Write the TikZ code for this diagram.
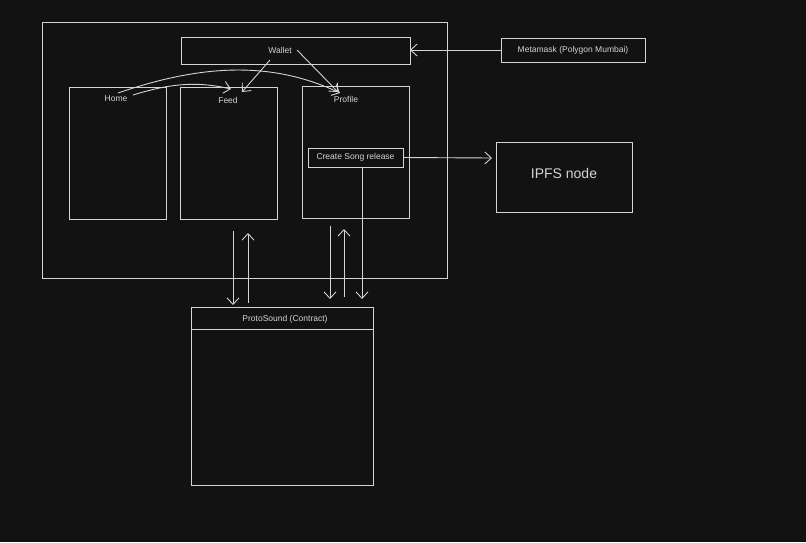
\documentclass[tikz,border=0pt]{standalone}
\usepackage{fontspec}
\setmainfont{Liberation Sans}
\usetikzlibrary{arrows.meta}
\definecolor{bg}{HTML}{121212}
\definecolor{ink}{HTML}{D4D4D4}
\begin{document}
\begin{tikzpicture}[x=1pt,y=-1pt,
  line width=0.9pt,
  box/.style={draw=ink, inner sep=0pt},
  lbl/.style={text=ink, font=\fontsize{8.5}{10}\selectfont, inner sep=1pt},
  arr/.style={draw=ink, -{Straight Barb[length=6.5pt,width=12pt,line width=0.9pt]}}]
\fill[bg] (0,0) rectangle (806,542);
\useasboundingbox (0,0) rectangle (806,542);
% outer container
\draw[ink] (42,22) rectangle (447,278);
% wallet
\draw[ink] (181,37) rectangle (410,64);
\coordinate (walletR) at (410,50);
\node[lbl] (wallet) at (280,50) {Wallet};
% metamask
\draw[ink] (501,38) rectangle (645,62);
\coordinate (metaL) at (501,50);
\node[lbl] (meta) at (573,50) {Metamask (Polygon Mumbai)};
\draw[arr] (metaL) -- (walletR);
% pages
\draw[ink] (69,87) rectangle (166,219);
\draw[ink] (180,87) rectangle (277,219);
\draw[ink] (302,86) rectangle (409,218);
\node[lbl] (home) at (116,99) {Home};
\node[lbl] (feed) at (228,100) {Feed};
\node[lbl] (profile) at (346,99) {Profile};
% create song release
\node[box, minimum width=95pt, minimum height=19pt] (create) at (355.5,157.5) {};
\node[lbl] at (create) {Create Song release};
% IPFS
\node[box, minimum width=136pt, minimum height=70pt] (ipfs) at (564,177) {};
\node[text=ink, font=\fontsize{14}{16}\selectfont] at (564,173) {IPFS node};
\draw[arr] (create.east) -- (492,158);
% protosound
\draw[ink] (191,307) rectangle (373,485);
\draw[ink] (191,329) -- (373,329);
\node[lbl] (proto) at (285,319) {ProtoSound (Contract)};
% connectors from pages
\coordinate (a1) at (233,231); \coordinate (a1e) at (233,305);
\coordinate (a2) at (248,303); \coordinate (a2e) at (248,233);
\coordinate (b1) at (330,226); \coordinate (b1e) at (330,299);
\coordinate (b2) at (344,297); \coordinate (b2e) at (344,229);
\coordinate (c1) at (362,167); \coordinate (c1e) at (362,299);
\draw[arr] (a1) -- (a1e);
\draw[arr] (a2) -- (a2e);
\draw[arr] (b1) -- (b1e);
\draw[arr] (b2) -- (b2e);
\draw[arr] (create.south -| c1) -- (c1e);
% home curves
\draw[arr] (118,93) .. controls (200,65) and (270,60) .. (340,93);
\draw[arr] (133,95) .. controls (175,82) and (200,82) .. (231,89);
% wallet arrows
\draw[arr] (270,60) -- (242,92);
\draw[arr] (297,50) -- (338,92);
\end{tikzpicture}
\end{document}
